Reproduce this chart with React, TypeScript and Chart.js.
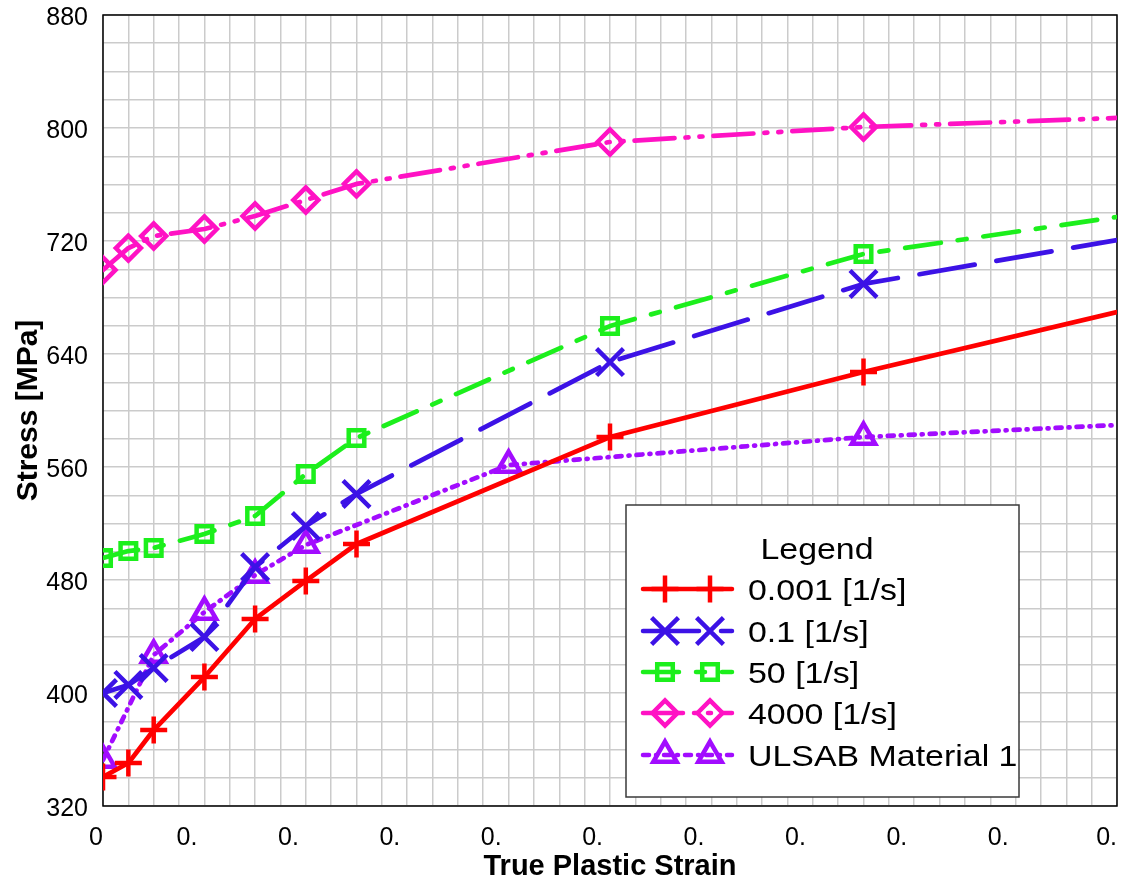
import React, { useEffect, useRef } from "react";
import { Chart, registerables } from "chart.js";

Chart.register(...registerables);

// ---- data ----
const strainRates = ["0.001 [1/s]", "0.1 [1/s]", "50 [1/s]", "4000 [1/s]"];
const strainMain = [0, 0.005, 0.01, 0.02, 0.03, 0.04, 0.05, 0.1, 0.15, 0.2];
const stress0001 = [340.5, 350.4, 373.8, 411.3, 452.4, 479.3, 505.5, 581.2, 627.3, 669.7];
const stress01 = [400, 405.7, 417.7, 439.6, 489.2, 518.2, 540.9, 634.3, 689.6, 720.7];
const stress50 = [495.6, 500.5, 502.7, 512.6, 525.3, 555.0, 580.5, 659.8, 710.8, 737.0];
const stress4000 = [699.5, 715.0, 723.5, 728.5, 737.7, 749.0, 760.4, 790.1, 800.7, 807.1];
const ulsabLabel = "ULSAB Material 1";
const strainUlsab = [0, 0.01, 0.02, 0.03, 0.04, 0.08, 0.15, 0.2];
const stressUlsab = [352.6, 426.9, 457.3, 483.5, 504.8, 561.4, 581.2, 589.7];

const xTickLabels = ["0", "0. ", "0. ", "0. ", "0. ", "0. ", "0. ", "0. ", "0. ", "0. ", "0."];
const yTickLabels = ["320", "400", "480", "560", "640", "720", "800", "880"];

const FONT = "'Liberation Sans', Arial, sans-serif";

type Series = {
  label: string;
  xs: number[];
  ys: number[];
  color: string;
  dash: number[];
  marker: string;
  radius: number;
};

const series: Series[] = [
  { label: strainRates[0], xs: strainMain, ys: stress0001, color: "#ff0000", dash: [], marker: "cross", radius: 13.5 },
  { label: strainRates[1], xs: strainMain, ys: stress01, color: "#3c12e6", dash: [56, 22], marker: "crossRot", radius: 19 },
  { label: strainRates[2], xs: strainMain, ys: stress50, color: "#1cef1c", dash: [36, 17, 9, 17], marker: "rect", radius: 11 },
  { label: strainRates[3], xs: strainMain, ys: stress4000, color: "#ff12c4", dash: [40, 11, 3, 11, 3, 11], marker: "rectRot", radius: 12.5 },
  { label: ulsabLabel, xs: strainUlsab, ys: stressUlsab, color: "#a20cff", dash: [6, 7, 1, 7], marker: "triangle", radius: 13.5 },
];

function drawMarker(ctx: CanvasRenderingContext2D, style: string, x: number, y: number, r: number) {
  ctx.beginPath();
  if (style === "cross") {
    ctx.moveTo(x - r, y); ctx.lineTo(x + r, y);
    ctx.moveTo(x, y - r); ctx.lineTo(x, y + r);
  } else if (style === "crossRot") {
    const d = r * Math.SQRT1_2;
    ctx.moveTo(x - d, y - d); ctx.lineTo(x + d, y + d);
    ctx.moveTo(x + d, y - d); ctx.lineTo(x - d, y + d);
  } else if (style === "rect") {
    const s = r * Math.SQRT1_2;
    ctx.rect(x - s, y - s, 2 * s, 2 * s);
  } else if (style === "rectRot") {
    ctx.moveTo(x - r, y); ctx.lineTo(x, y - r); ctx.lineTo(x + r, y); ctx.lineTo(x, y + r); ctx.closePath();
  } else if (style === "triangle") {
    const a = (2 * Math.PI) / 3;
    ctx.moveTo(x, y - r);
    ctx.lineTo(x + Math.sin(a) * r, y - Math.cos(a) * r);
    ctx.lineTo(x + Math.sin(2 * a) * r, y - Math.cos(2 * a) * r);
    ctx.closePath();
  }
  ctx.stroke();
}

function stretchedText(ctx: CanvasRenderingContext2D, text: string, x: number, y: number, sx: number) {
  ctx.save();
  ctx.translate(x, y);
  ctx.scale(sx, 1);
  ctx.fillText(text, 0, 0);
  ctx.restore();
}

const framePlugin = {
  id: "frame",
  beforeDatasetsDraw(chart: any) {
    const { ctx, chartArea } = chart;
    ctx.save();
    ctx.strokeStyle = "#000";
    ctx.lineWidth = 1.5;
    ctx.strokeRect(chartArea.left, chartArea.top, chartArea.right - chartArea.left, chartArea.bottom - chartArea.top);
    ctx.restore();
  },
};

const legendPlugin = {
  id: "boxLegend",
  afterDatasetsDraw(chart: any) {
    const { ctx } = chart;
    const bx = 626, by = 505, bw = 393, bh = 292;
    const sx = 1.13;
    ctx.save();
    ctx.fillStyle = "#fff";
    ctx.fillRect(bx, by, bw, bh);
    ctx.strokeStyle = "#3a3a3a";
    ctx.lineWidth = 1.5;
    ctx.strokeRect(bx, by, bw, bh);
    ctx.fillStyle = "#000";
    ctx.font = `30px ${FONT}`;
    ctx.textBaseline = "middle";
    ctx.textAlign = "center";
    stretchedText(ctx, "Legend", 817, 551, sx);
    ctx.textAlign = "left";
    const rowY = [589, 631, 672, 713, 755];
    series.forEach((s, i) => {
      const y = rowY[i];
      ctx.strokeStyle = s.color;
      ctx.lineWidth = 4.5;
      ctx.lineCap = "round";
      ctx.setLineDash(s.dash);
      ctx.beginPath();
      ctx.moveTo(643, y);
      ctx.lineTo(732, y);
      ctx.stroke();
      ctx.setLineDash([]);
      ctx.lineCap = "butt";
      ctx.lineWidth = 4.5;
      drawMarker(ctx, s.marker, 665, y, s.radius);
      drawMarker(ctx, s.marker, 710, y, s.radius);
      ctx.fillStyle = "#000";
      stretchedText(ctx, s.label, 748, y + 3, sx);
    });
    ctx.restore();
  },
};

export default function App() {
  const canvasRef = useRef<HTMLCanvasElement | null>(null);

  useEffect(() => {
    document.body.style.margin = "0";
    const canvas = canvasRef.current;
    if (!canvas) return;

    const datasets = series.map((s) => ({
      label: s.label,
      data: s.xs.map((x, i) => ({ x, y: s.ys[i] })),
      borderColor: s.color,
      backgroundColor: "rgba(0,0,0,0)",
      borderWidth: 4.7,
      borderDash: s.dash,
      borderCapStyle: "round" as const,
      borderJoinStyle: "round" as const,
      pointStyle: s.marker,
      pointRadius: (c: any) => (c.raw && c.raw.x >= 0.2 ? 0 : s.radius),
      pointBorderWidth: 4.5,
      pointBorderColor: s.color,
      pointBackgroundColor: "rgba(0,0,0,0)",
      tension: 0,
      fill: false,
    }));

    const zeroPad = (scale: any) => {
      scale.paddingTop = 0;
      scale.paddingBottom = 0;
      scale.paddingLeft = 0;
      scale.paddingRight = 0;
    };

    const chart = new Chart(canvas, {
      type: "line",
      data: { datasets },
      options: {
        animation: false,
        responsive: false,
        devicePixelRatio: 1,
        layout: { autoPadding: false, padding: { top: 15, right: 6, left: 0, bottom: 0 } },
        plugins: {
          legend: { display: false },
          tooltip: { enabled: false },
        },
        scales: {
          x: {
            type: "linear",
            min: 0,
            max: 0.2,
            afterFit: (scale: any) => { scale.height = 79; zeroPad(scale); },
            afterBuildTicks: (scale: any) => {
              const t = [];
              for (let i = 0; i <= 40; i++) t.push({ value: i * 0.005 });
              scale.ticks = t;
            },
            ticks: {
              autoSkip: false,
              maxRotation: 0,
              align: "end",
              padding: 17,
              color: "#000",
              font: { family: FONT, size: 25 },
              callback: (_v: any, i: number) => (i % 4 === 0 ? xTickLabels[i / 4] : ""),
            },
            grid: { color: "#cbcbcb", lineWidth: 1.5, drawTicks: false },
            border: { display: false },
            title: {
              display: true,
              text: "True Plastic Strain",
              color: "#000",
              font: { family: FONT, size: 29, weight: "bold" },
              padding: { top: 0, bottom: 1 },
            },
          },
          y: {
            type: "linear",
            min: 320,
            max: 880,
            afterFit: (scale: any) => { scale.width = 103; zeroPad(scale); },
            afterBuildTicks: (scale: any) => {
              const t = [];
              for (let v = 320; v <= 880; v += 20) t.push({ value: v });
              scale.ticks = t;
            },
            ticks: {
              autoSkip: false,
              padding: 15,
              labelOffset: 3,
              color: "#000",
              font: { family: FONT, size: 25 },
              callback: (v: any) => ((v - 320) % 80 === 0 ? yTickLabels[(v - 320) / 80] : ""),
            },
            grid: { color: "#cbcbcb", lineWidth: 1.5, drawTicks: false },
            border: { display: false },
            title: {
              display: true,
              text: "Stress [MPa]",
              color: "#000",
              font: { family: FONT, size: 30, weight: "bold" },
              padding: { top: 11, bottom: 0 },
            },
          },
        },
      },
      plugins: [framePlugin, legendPlugin],
    } as any);

    return () => chart.destroy();
  }, []);

  return (
    <div style={{ width: 1123, height: 885 }}>
      <canvas ref={canvasRef} width={1123} height={885} />
    </div>
  );
}
